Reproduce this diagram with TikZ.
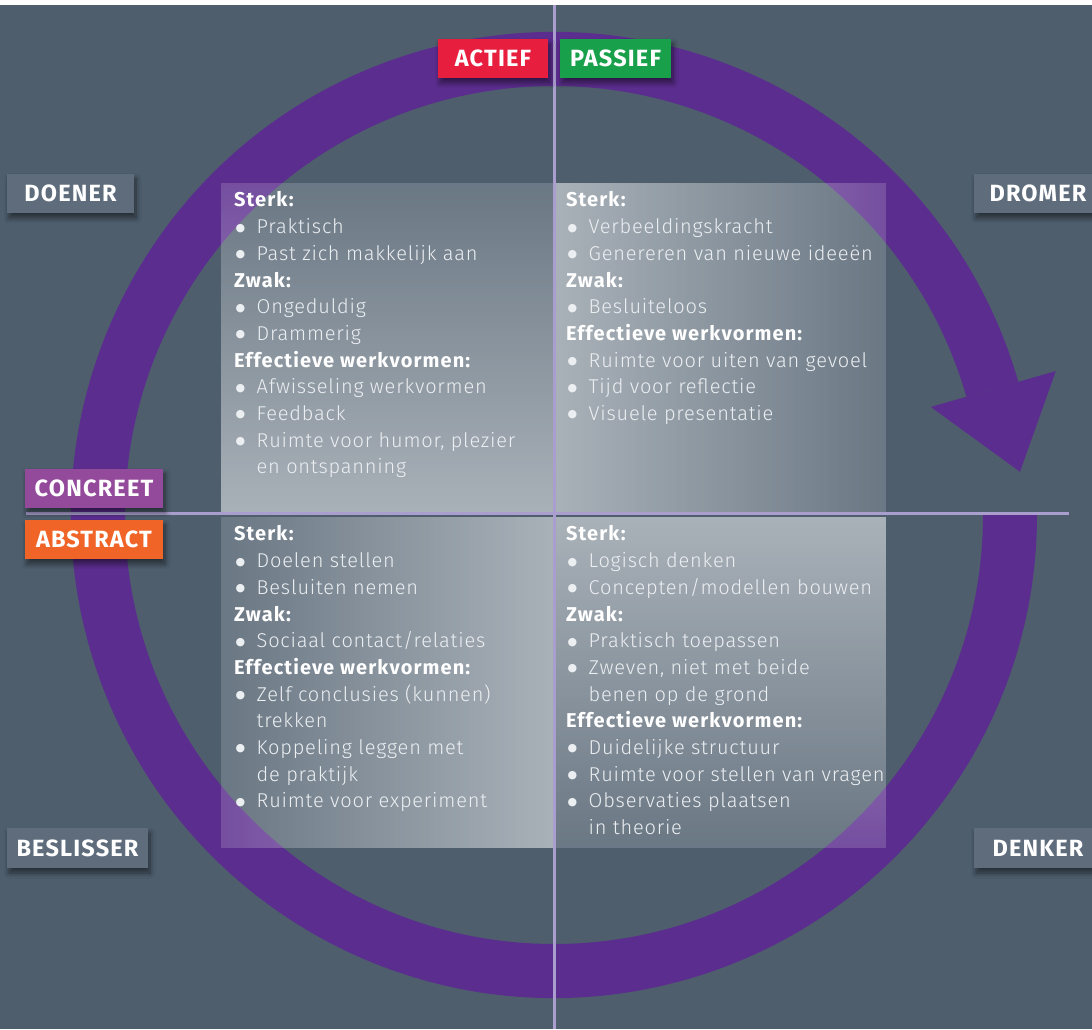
\documentclass[tikz,border=0pt]{standalone}
\usepackage{fontspec}
\IfFontExistsTF{Fira Sans Light}
  {\setmainfont{Fira Sans Light}[BoldFont={Fira Sans/B}, LetterSpace=4, BoldFeatures={LetterSpace=5.5}]}
  {\setmainfont{Fira Sans}[LetterSpace=4]}
\newfontfamily\tagfont{Fira Sans}[LetterSpace=5]
\newfontfamily\bulfont{DejaVu Sans}
\usetikzlibrary{fadings,shadows.blur}
\definecolor{bgc}{RGB}{78,94,109}
\definecolor{ringc}{RGB}{91,45,142}
\definecolor{axisc}{RGB}{170,158,206}
\definecolor{tagc}{RGB}{94,108,124}
\definecolor{redc}{RGB}{232,30,62}
\definecolor{greenc}{RGB}{25,160,75}
\definecolor{concc}{RGB}{148,74,155}
\definecolor{absc}{RGB}{240,100,40}
\definecolor{itemc}{RGB}{236,239,242}
\tikzfading[name=fdown, top color=transparent!84, middle color=transparent!76, bottom color=transparent!48]
\tikzfading[name=fup, bottom color=transparent!84, middle color=transparent!76, top color=transparent!48]
\tikzfading[name=fleft, right color=transparent!84, middle color=transparent!76, left color=transparent!48]
\tikzfading[name=fright, left color=transparent!84, middle color=transparent!76, right color=transparent!48]
\newcommand\hd[1]{\leavevmode{\bfseries\color{white}#1}\par}
\newcommand\bul{\makebox[21pt][l]{\raisebox{2.6pt}{\bulfont\fontsize{11}{11}\selectfont ●}}}
\newcommand\bl[1]{\leavevmode\hspace*{1.5pt}\bul#1\par}
\newcommand\cl[1]{\leavevmode\hspace*{22.5pt}#1\par}
\newcommand\qtext[1]{\vtop{\hsize=340pt\parindent=0pt\parskip=0pt\fontsize{20}{26.7}\selectfont #1}}
\begin{document}
\begin{tikzpicture}[x=1pt,y=1pt,
  tagbox/.style={text=white, font=\tagfont\bfseries\fontsize{23.5}{24}\selectfont, minimum height=39pt, inner sep=0pt,
    blur shadow={shadow xshift=2pt, shadow yshift=-5pt, shadow opacity=50, shadow blur steps=8, shadow blur radius=5pt}},
  axis/.style={axisc, line width=3pt},
  qtxt/.style={anchor=base west, inner sep=0pt, text=itemc}]
\useasboundingbox (0,0) rectangle (1092,1029);
\clip (0,0) rectangle (1092,1029);
\fill[white] (0,0) rectangle (1092,1029);
\fill[bgc] (0,0) rectangle (1092,1024);
% cycle ring
\begin{scope}[shift={(554,514)}]
  \fill[ringc] (16:483) arc[start angle=16,end angle=360,radius=483] -- (0:429) arc[start angle=360,end angle=16,radius=429] -- cycle;
  \fill[ringc] (16:392) -- (16:522) -- (5.3:468) -- cycle;
\end{scope}
% quadrant panels
\fill[white, path fading=fdown] (221,516) rectangle (553,846);
\fill[white, path fading=fleft] (555,516) rectangle (886,846);
\fill[white, path fading=fright] (221,181) rectangle (553,512);
\fill[white, path fading=fup] (555,181) rectangle (886,512);
% axes
\coordinate (vtop) at (554,1024);
\coordinate (vbot) at (554,0);
\coordinate (hl) at (26,515);
\coordinate (hr) at (1069,515);
\draw[axis] (vtop) -- (vbot);
\draw[axis] (hl) -- (hr);
% tags
\node[tagbox, fill=redc, minimum width=110pt] (actief) at (493,970.5) {ACTIEF};
\node[tagbox, fill=greenc, minimum width=111pt] (passief) at (615.5,970.5) {PASSIEF};
\node[tagbox, fill=tagc, minimum width=127pt] (doener) at (70.5,835.5) {DOENER};
\node[tagbox, fill=tagc, minimum width=128pt] (dromer) at (1038,835.5) {DROMER};
\node[tagbox, fill=tagc, minimum width=141pt, minimum height=40pt] (beslisser) at (77.5,181) {BESLISSER};
\node[tagbox, fill=tagc, minimum width=128pt, minimum height=40pt] (denker) at (1038,181) {DENKER};
\node[tagbox, fill=concc, minimum width=138pt] (concreet) at (94,540.5) {CONCREET};
\node[tagbox, fill=absc, minimum width=138pt] (abstract) at (94,489.5) {ABSTRACT};
% texts
\node[qtxt] (tltext) at (234,822) {\qtext{%
\hd{Sterk:}
\bl{Praktisch}
\bl{Past zich makkelijk aan}
\hd{Zwak:}
\bl{Ongeduldig}
\bl{Drammerig}
\hd{Effectieve werkvormen:}
\bl{Afwisseling werkvormen}
\bl{Feedback}
\bl{Ruimte voor humor, plezier}
\cl{en ontspanning}}};
\node[qtxt] (trtext) at (566,822) {\qtext{%
\hd{Sterk:}
\bl{Verbeeldingskracht}
\bl{Genereren van nieuwe ideeën}
\hd{Zwak:}
\bl{Besluiteloos}
\hd{Effectieve werkvormen:}
\bl{Ruimte voor uiten van gevoel}
\bl{Tijd voor reflectie}
\bl{Visuele presentatie}}};
\node[qtxt] (bltext) at (234,488) {\qtext{%
\hd{Sterk:}
\bl{Doelen stellen}
\bl{Besluiten nemen}
\hd{Zwak:}
\bl{Sociaal contact/relaties}
\hd{Effectieve werkvormen:}
\bl{Zelf conclusies (kunnen)}
\cl{trekken}
\bl{Koppeling leggen met}
\cl{de praktijk}
\bl{Ruimte voor experiment}}};
\node[qtxt] (brtext) at (566,488) {\qtext{%
\hd{Sterk:}
\bl{Logisch denken}
\bl{Concepten/modellen bouwen}
\hd{Zwak:}
\bl{Praktisch toepassen}
\bl{Zweven, niet met beide}
\cl{benen op de grond}
\hd{Effectieve werkvormen:}
\bl{Duidelijke structuur}
\bl{Ruimte voor stellen van vragen}
\bl{Observaties plaatsen}
\cl{in theorie}}};
\end{tikzpicture}
\end{document}
